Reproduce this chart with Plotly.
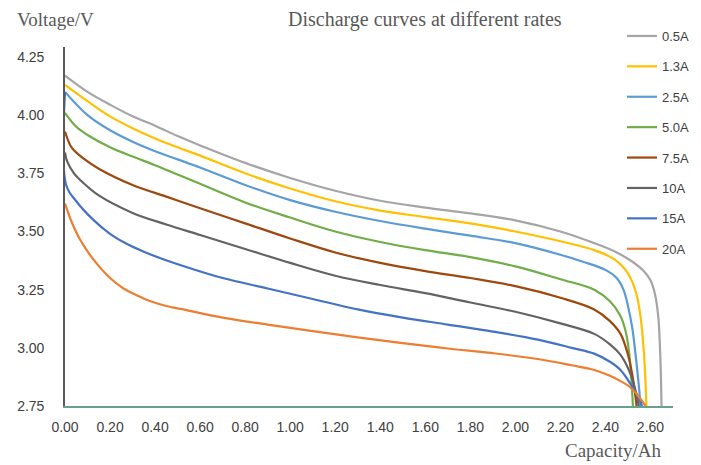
import plotly.graph_objects as go

# ---- data (capacity in Ah, voltage in V) ----
series_names = ["0.5A", "1.3A", "2.5A", "5.0A", "7.5A", "10A", "15A", "20A"]
series_colors = ["#A5A5A5", "#FFC000", "#5B9BD5", "#70AD47", "#9E480E", "#636363", "#4472C4", "#ED7D31"]

cap_05 = [0, 0.1, 0.2, 0.3, 0.4, 0.5, 0.6, 0.8, 1.0, 1.2, 1.4, 1.6, 1.8, 2.0, 2.2, 2.35, 2.45, 2.52, 2.57, 2.60, 2.62, 2.635, 2.643, 2.647, 2.649]
v_05 = [4.17, 4.10, 4.045, 3.995, 3.955, 3.91, 3.87, 3.795, 3.73, 3.675, 3.632, 3.603, 3.578, 3.548, 3.50, 3.45, 3.41, 3.37, 3.33, 3.29, 3.23, 3.13, 2.98, 2.85, 2.75]

cap_13 = [0, 0.1, 0.2, 0.3, 0.4, 0.5, 0.6, 0.8, 1.0, 1.2, 1.4, 1.6, 1.8, 2.0, 2.2, 2.35, 2.44, 2.50, 2.535, 2.555, 2.57, 2.578, 2.582]
v_13 = [4.13, 4.06, 3.995, 3.944, 3.90, 3.862, 3.826, 3.75, 3.685, 3.63, 3.59, 3.562, 3.535, 3.50, 3.458, 3.42, 3.38, 3.32, 3.24, 3.14, 2.99, 2.85, 2.75]

cap_25 = [0, 0.1, 0.2, 0.3, 0.4, 0.5, 0.6, 0.8, 1.0, 1.2, 1.4, 1.6, 1.8, 2.0, 2.2, 2.3, 2.4, 2.45, 2.48, 2.50, 2.52, 2.535, 2.548, 2.556]
v_25 = [4.10, 4.00, 3.935, 3.886, 3.845, 3.81, 3.775, 3.70, 3.635, 3.585, 3.545, 3.512, 3.482, 3.45, 3.40, 3.37, 3.335, 3.30, 3.25, 3.18, 3.08, 2.96, 2.84, 2.75]

cap_50 = [0, 0.05, 0.1, 0.2, 0.3, 0.4, 0.5, 0.6, 0.8, 1.0, 1.2, 1.4, 1.6, 1.8, 2.0, 2.2, 2.35, 2.42, 2.465, 2.49, 2.505, 2.515, 2.522]
v_50 = [4.01, 3.95, 3.915, 3.862, 3.822, 3.785, 3.745, 3.705, 3.625, 3.56, 3.50, 3.455, 3.42, 3.39, 3.35, 3.295, 3.25, 3.20, 3.14, 3.07, 2.98, 2.87, 2.75]

cap_75 = [0, 0.03, 0.08, 0.15, 0.3, 0.45, 0.6, 0.8, 1.0, 1.2, 1.4, 1.6, 1.8, 2.0, 2.2, 2.35, 2.42, 2.467, 2.5, 2.52, 2.532, 2.538]
v_75 = [3.93, 3.86, 3.815, 3.77, 3.70, 3.65, 3.60, 3.535, 3.47, 3.41, 3.365, 3.33, 3.30, 3.265, 3.215, 3.165, 3.115, 3.06, 2.97, 2.88, 2.80, 2.75]

cap_10 = [0, 0.01, 0.04, 0.08, 0.15, 0.3, 0.45, 0.6, 0.8, 1.0, 1.2, 1.4, 1.6, 1.8, 2.0, 2.2, 2.35, 2.42, 2.467, 2.504, 2.53, 2.548]
v_10 = [3.84, 3.80, 3.75, 3.71, 3.655, 3.58, 3.53, 3.485, 3.425, 3.365, 3.31, 3.27, 3.235, 3.195, 3.155, 3.105, 3.06, 3.015, 2.97, 2.905, 2.83, 2.75]

cap_15 = [0, 0.005, 0.05, 0.126, 0.2, 0.274, 0.35, 0.43, 0.556, 0.7, 0.9, 1.1, 1.3, 1.5, 1.7, 1.9, 2.1, 2.25, 2.35, 2.42, 2.467, 2.511, 2.545, 2.563]
v_15 = [4.10, 3.70, 3.63, 3.55, 3.49, 3.447, 3.413, 3.383, 3.342, 3.30, 3.255, 3.21, 3.165, 3.13, 3.10, 3.07, 3.035, 3.00, 2.975, 2.94, 2.905, 2.845, 2.79, 2.75]

cap_20 = [0, 0.03, 0.07, 0.126, 0.2, 0.26, 0.32, 0.38, 0.45, 0.54, 0.7, 0.9, 1.1, 1.3, 1.5, 1.7, 1.9, 2.1, 2.25, 2.35, 2.42, 2.467, 2.511, 2.556, 2.578]
v_20 = [3.62, 3.54, 3.46, 3.38, 3.30, 3.255, 3.225, 3.20, 3.18, 3.162, 3.13, 3.10, 3.072, 3.045, 3.02, 2.997, 2.977, 2.952, 2.925, 2.905, 2.88, 2.857, 2.83, 2.78, 2.75]

caps = [cap_05, cap_13, cap_25, cap_50, cap_75, cap_10, cap_15, cap_20]
volts = [v_05, v_13, v_25, v_50, v_75, v_10, v_15, v_20]

x_ticks = [0.0, 0.2, 0.4, 0.6, 0.8, 1.0, 1.2, 1.4, 1.6, 1.8, 2.0, 2.2, 2.4, 2.6]
y_ticks = [2.75, 3.00, 3.25, 3.50, 3.75, 4.00, 4.25]

tick_font = dict(family="Liberation Sans Narrow, Liberation Sans, Arial, sans-serif", size=14, color="#404040")
legend_font = dict(family="Liberation Sans Narrow, Liberation Sans, Arial, sans-serif", size=13, color="#404040")
serif = "Liberation Serif, Times New Roman, serif"

# The page body has an 8px margin, so the figure is sized/placed to compensate.
W, H = 693, 457

fig = go.Figure()
for name, color, xs, ys in zip(series_names, series_colors, caps, volts):
    fig.add_trace(go.Scatter(
        x=xs, y=ys, name=name, mode="lines", legendgroup=name,
        line=dict(color=color, width=2.2, shape="spline", smoothing=1.0),
    ))

fig.update_layout(
    width=W, height=H,
    margin=dict(l=57, r=28, t=39, b=59, autoexpand=False),
    paper_bgcolor="white", plot_bgcolor="white",
    showlegend=True,
    legend=dict(
        xref="container", yref="container",
        x=614 / W, y=1 - 13 / H, xanchor="left", yanchor="top",
        font=legend_font, bgcolor="rgba(0,0,0,0)",
        tracegroupgap=10.5, itemwidth=30, maxheight=420,
    ),
    xaxis=dict(
        range=[0, 2.70], tickvals=x_ticks, ticktext=[f"{v:.2f}" for v in x_ticks],
        showgrid=False, zeroline=False, showline=True, linecolor="#6A9E90", linewidth=1.6,
        ticks="", tickfont=tick_font, ticklabelstandoff=7,
    ),
    yaxis=dict(
        range=[2.75, 4.293], tickvals=y_ticks, ticktext=[f"{v:.2f}" for v in y_ticks],
        showgrid=False, zeroline=False, showline=True, linecolor="#595959", linewidth=1.6,
        ticks="", tickfont=tick_font, ticklabelstandoff=16,
    ),
    annotations=[
        dict(text="Discharge curves at different rates", xref="paper", yref="paper",
             x=(425 - 65) / 608, y=(406 - 19) / 359, xanchor="center", yanchor="middle",
             showarrow=False, font=dict(family=serif, size=20, color="#595959")),
        dict(text="Voltage/V", xref="paper", yref="paper",
             x=(15 - 65) / 608, y=(406 - 19) / 359, xanchor="left", yanchor="middle",
             showarrow=False, font=dict(family=serif, size=19, color="#595959")),
        dict(text="Capacity/Ah", xref="paper", yref="paper",
             x=(664 - 65) / 608, y=(406 - 451) / 359, xanchor="right", yanchor="middle",
             showarrow=False, font=dict(family=serif, size=19, color="#595959")),
    ],
)

fig.write_html("out.html")
